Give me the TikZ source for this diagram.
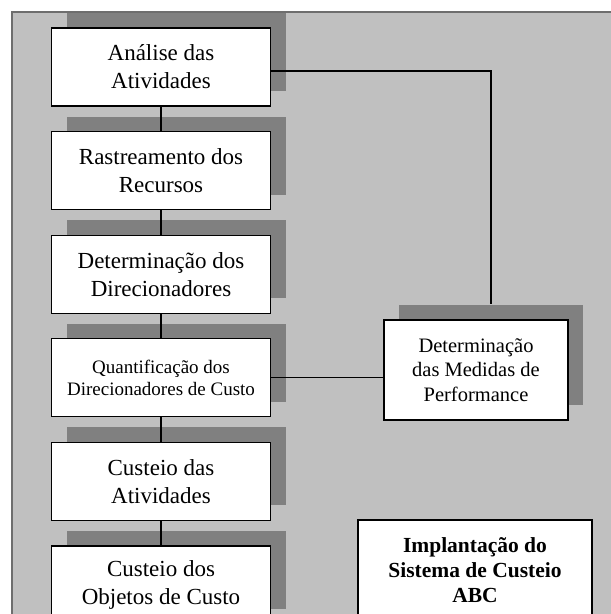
\documentclass[tikz,border=0pt]{standalone}
\usepackage{fontspec}
\setmainfont{Liberation Serif}
\usepackage{xcolor}
\usetikzlibrary{positioning, shadows}
\definecolor{fundo}{HTML}{C0C0C0}
\definecolor{sombra}{HTML}{808080}
\definecolor{borda}{HTML}{6E6E6E}

\tikzset{
  etapa/.style={draw, line width=1.1pt, fill=white, align=center, inner sep=0pt,
    minimum width=219pt, minimum height=78pt, font=\fontsize{23}{28}\selectfont,
    drop shadow={shadow xshift=15pt, shadow yshift=15pt, fill=sombra, opacity=1, draw=none}},
  linha/.style={line width=1.1pt}
}

\begin{document}
\begin{tikzpicture}[x=1pt,y=-1pt]
     \useasboundingbox (0,0) rectangle (611,614);
     \clip (0,0) rectangle (611,614);
     \draw[borda, fill=fundo, line width=1.4pt] (12,12) rectangle (650,650);%moldura

     \node[etapa] (ana) at (161,67) {Análise das\\Atividades};
     \node[etapa, below=24.5pt of ana] (ras) {Rastreamento dos\\Recursos};
     \node[etapa, below=24.5pt of ras] (dir) {Determinação dos\\Direcionadores};
     \node[etapa, below=24.5pt of dir, font=\fontsize{19}{21.5}\selectfont] (qua) {Quantificação dos\\Direcionadores de Custo};
     \node[etapa, below=24.5pt of qua] (cat) {Custeio das\\Atividades};
     \node[etapa, below=24.5pt of cat] (cob) {Custeio dos\\Objetos de Custo};

     \node[etapa, minimum width=184pt, minimum height=100pt, font=\fontsize{20.5}{24.5}\selectfont] (med) at (476,370) {Determinação\\das Medidas de\\Performance};
     \node[draw, line width=1.1pt, fill=white, align=center, minimum width=234pt, minimum height=100pt,
       font=\bfseries\fontsize{21.5}{25}\selectfont] (abc) at (475,570) {Implantação do\\Sistema de Custeio\\ABC};

     \foreach \i/\j in {ana/ras, ras/dir, dir/qua, qua/cat, cat/cob}
       \draw[linha] (\i) -- (\j);
     \draw[linha] ([yshift=-4pt]ana.east) -| ([xshift=15pt,yshift=15pt]med.north);
     \draw[linha] (qua.east) -- (qua.east -| med.west);
\end{tikzpicture}
\end{document}
